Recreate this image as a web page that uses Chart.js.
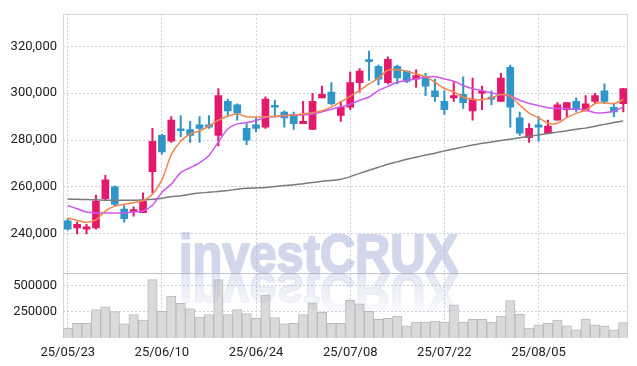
<!doctype html>
<html>
<head>
<script src="https://cdn.jsdelivr.net/npm/chart.js"></script>
<style>
  html, body { margin: 0; padding: 0; background: #fff; }
</style>
</head>
<body>
<canvas id="stock" width="637" height="366"></canvas>
<script>
// trading days (yy/mm/dd)
const dates = ['25/05/23','25/05/26','25/05/27','25/05/28','25/05/29','25/05/30','25/06/02','25/06/04','25/06/05','25/06/09',
  '25/06/10','25/06/11','25/06/12','25/06/13','25/06/16','25/06/17','25/06/18','25/06/19','25/06/20','25/06/23',
  '25/06/24','25/06/25','25/06/26','25/06/27','25/06/30','25/07/01','25/07/02','25/07/03','25/07/04','25/07/07',
  '25/07/08','25/07/09','25/07/10','25/07/11','25/07/14','25/07/15','25/07/16','25/07/17','25/07/18','25/07/21',
  '25/07/22','25/07/23','25/07/24','25/07/25','25/07/28','25/07/29','25/07/30','25/07/31','25/08/01','25/08/04',
  '25/08/05','25/08/06','25/08/07','25/08/08','25/08/11','25/08/12','25/08/13','25/08/14','25/08/18','25/08/19'];

const opens = [245500,242500,242000,242500,255000,260000,250500,249500,249000,266500,
  282000,279500,284500,284500,286500,286500,282000,296500,295000,285000,
  286500,285500,294500,292000,291000,287000,284500,298000,300500,290500,
  294000,304500,314000,311500,304500,311500,309500,306000,307000,301000,
  296500,298000,299500,292500,300000,298000,296500,311000,289500,281000,
  286500,283000,288500,293000,296500,292500,296500,301000,294000,295500];
const highs = [246500,245000,244000,256500,265000,260500,252000,251500,257500,285000,
  282500,290000,290500,288000,290000,290500,302000,297500,295500,287000,
  289500,298500,297000,292500,292000,296500,300000,303000,304500,296500,
  309000,310500,318000,312000,315500,312000,309500,310000,308500,306000,
  301000,304500,307000,306500,303000,301000,308500,312000,292000,287000,
  290000,288500,296000,296000,298000,299000,300000,304000,295500,302000];
const lows = [241500,240000,240000,242000,254500,252000,245000,247500,249000,257500,
  274000,279000,281500,279000,279000,285000,277500,290500,288500,278000,
  283500,285000,290000,285500,284500,287000,284500,298000,295000,288000,
  293000,300500,305500,303500,304000,304000,304500,302500,299000,296500,
  291000,296500,293500,288500,293000,295000,296500,285500,282000,279000,
  279500,283000,288500,290000,292000,292500,295500,295500,290000,292000];
const closes = [242000,244000,243000,254000,263000,252500,246500,250000,254000,279500,
  275000,288500,284000,282000,285000,285500,299000,292500,291500,280000,
  285000,297500,294000,289500,287000,288000,296500,299500,295500,294000,
  304500,309500,313500,306000,314500,306500,305000,307500,303000,298500,
  293000,299000,296000,297500,300500,297500,306500,294000,283000,285000,
  285500,286000,295000,296000,293000,295500,299000,296500,292000,302000];

const volumes = [93700,139700,139700,268400,296000,250000,133300,222400,170000,553300,
  252800,397000,329000,277600,197600,222400,553300,222400,268400,231600,
  185700,406200,194800,133300,139700,222400,332700,243000,139700,139700,
  360300,323500,252800,176500,185700,206800,114900,151700,151700,160800,
  151700,314300,151700,176500,176500,151700,206800,353900,225200,93700,
  124100,142500,170000,114900,78100,179200,124100,114900,78100,145200];

// moving averages as drawn
const ma5 = [246700,245700,244900,245900,249700,251800,252600,253300,254100,256900,
  263000,273800,279500,282600,283900,286000,288500,290200,291100,290000,
  289800,290000,290200,290400,290700,291200,291700,292500,294200,296300,
  298700,301200,304000,306400,309900,310000,309400,308200,307100,304700,
  302000,300500,298400,297300,297300,298100,299500,298800,295000,291500,
  289500,287200,287200,289600,291400,292800,295600,295900,295600,297300];
const ma20 = [252100,250700,249300,248900,248900,248900,249000,249300,249700,252200,
  257700,261200,266100,268200,270300,273400,279200,284700,286900,287500,
  288400,289600,290000,290400,290700,290700,291100,292100,293200,294200,
  295300,297000,298400,301200,302900,304700,305400,306200,306800,307100,
  306100,305100,303300,301900,301200,300100,299400,298800,297000,295600,
  294700,293800,293500,293500,293200,292800,291700,291700,292300,294200];
const ma60 = [254900,254700,254600,254500,254300,254300,254300,254300,254500,254700,
  255200,255800,256200,256900,257400,257700,258100,258500,259000,259400,
  259600,259800,260200,260600,260900,261400,261900,262400,262800,263300,
  264400,265800,267100,268400,269700,270700,271800,272700,273600,274400,
  275400,276200,277100,277900,278600,279200,279800,280400,281000,281600,
  282200,282800,283400,284000,284600,285100,285900,286700,287500,288200];

const priceTicks = [240000, 260000, 280000, 300000, 320000];
const volumeTicks = [250000, 500000];

const UP = '#e4196b';
const DOWN = '#3095c9';
const candleColors = closes.map((c, i) => c >= opens[i] ? UP : DOWN);
const gridColor = '#cdcde0';
const tickFont = { family: 'Roboto', size: 13 };

const watermark = {
  id: 'watermark',
  afterDatasetsDraw(chart) {
    const ctx = chart.ctx;
    const base = chart.scales.y.bottom;
    const text = 'investCRUX';
    const font = 'bold 50px "Liberation Sans", Arial, sans-serif';

    // layer 1: solid text on top of the separator
    const layer = document.createElement('canvas');
    layer.width = chart.width;
    layer.height = chart.height;
    const lc = layer.getContext('2d');
    lc.font = font;
    lc.textBaseline = 'alphabetic';
    lc.lineJoin = 'round';
    lc.lineWidth = 2;
    lc.fillStyle = lc.strokeStyle = 'rgb(150,162,210)';
    lc.save();
    lc.translate(179, base - 1);
    lc.scale(1, 1.08);
    lc.fillText(text, 0, 0, 279);
    lc.strokeText(text, 0, 0, 279);
    lc.restore();

    // layer 2: mirrored copy under the price pane
    lc.save();
    lc.translate(179, base + 1);
    lc.scale(1, -1.08);
    lc.globalAlpha = 0.55;
    lc.fillText(text, 0, 0, 279);
    lc.strokeText(text, 0, 0, 279);
    lc.restore();
    // fade the mirrored copy downwards
    lc.globalCompositeOperation = 'destination-out';
    const g = lc.createLinearGradient(0, base + 1, 0, base + 42);
    g.addColorStop(0, 'rgba(0,0,0,0)');
    g.addColorStop(1, 'rgba(0,0,0,0.85)');
    lc.fillStyle = g;
    lc.fillRect(0, base + 1, layer.width, 45);

    ctx.save();
    ctx.globalAlpha = 0.43;
    ctx.drawImage(layer, 0, 0);
    ctx.restore();
  }
};

const frame = {
  id: 'frame',
  beforeDatasetsDraw(chart) {
    const { ctx, chartArea: a } = chart;
    const sep = Math.round(chart.scales.y.bottom) + 0.5;
    ctx.save();
    ctx.lineWidth = 1;
    ctx.strokeStyle = '#d6d6d6';
    ctx.strokeRect(a.left + 0.5, a.top + 0.5, a.width - 1, a.height - 1);
    ctx.strokeStyle = '#c4c4c4';
    ctx.beginPath();
    ctx.moveTo(a.left, sep);
    ctx.lineTo(a.right, sep);
    ctx.stroke();
    ctx.restore();
  }
};

function maLine(data, color) {
  return {
    type: 'line', data: data, yAxisID: 'y', order: 0,
    borderColor: color, borderWidth: 1.5, pointRadius: 0, tension: 0.25, fill: false
  };
}

new Chart(document.getElementById('stock'), {
  type: 'bar',
  data: {
    labels: dates,
    datasets: [
      maLine(ma5, '#f0874c'),
      maLine(ma20, '#cc58ec'),
      maLine(ma60, '#7a7a7a'),
      {
        label: 'body', data: opens.map((o, i) => [o, closes[i]]), yAxisID: 'y', order: 1,
        grouped: false, barThickness: 7, minBarLength: 2,
        backgroundColor: candleColors, borderWidth: 0
      },
      {
        label: 'wick', data: lows.map((l, i) => [l, highs[i]]), yAxisID: 'y', order: 2,
        grouped: false, barThickness: 1.4, backgroundColor: candleColors, borderWidth: 0
      },
      {
        label: 'volume', data: volumes, yAxisID: 'v', order: 3,
        grouped: false, categoryPercentage: 1, barPercentage: 1,
        backgroundColor: '#dadada', borderColor: '#bababa', borderWidth: 1
      }
    ]
  },
  options: {
    responsive: false,
    animation: false,
    layout: { padding: { top: 9, right: 9, left: 0, bottom: 0 } },
    plugins: { legend: { display: false }, tooltip: { enabled: false } },
    scales: {
      x: {
        type: 'category',
        offset: true,
        grid: { offset: false, color: gridColor, drawTicks: false },
        border: { display: false, dash: [2, 2] },
        ticks: { autoSkip: false, maxRotation: 0, padding: 7, color: '#222', font: tickFont },
        afterBuildTicks: a => { a.ticks = a.ticks.filter(t => t.value % 10 === 0); },
        afterFit: a => { a.height = 28; }
      },
      // volume pane first so it is stacked below the price pane
      v: {
        type: 'linear', position: 'left', stack: 'panes', stackWeight: 1,
        min: 0, max: 615000,
        grid: { color: gridColor, drawTicks: false },
        border: { display: false, dash: [2, 2] },
        ticks: { padding: 6, color: '#222', font: tickFont, callback: v => String(v) },
        afterBuildTicks: a => { a.ticks = volumeTicks.map(v => ({ value: v })); },
        afterFit: a => { a.width = 63; }
      },
      y: {
        type: 'linear', position: 'left', stack: 'panes', stackWeight: 4,
        min: 223200, max: 333900,
        grid: { color: gridColor, drawTicks: false },
        border: { display: false, dash: [2, 2] },
        ticks: { padding: 6, color: '#222', font: tickFont, callback: v => v.toLocaleString('en-US') },
        afterBuildTicks: a => { a.ticks = priceTicks.map(v => ({ value: v })); },
        afterFit: a => { a.width = 63; }
      }
    }
  },
  plugins: [frame, watermark]
});
</script>
</body>
</html>
